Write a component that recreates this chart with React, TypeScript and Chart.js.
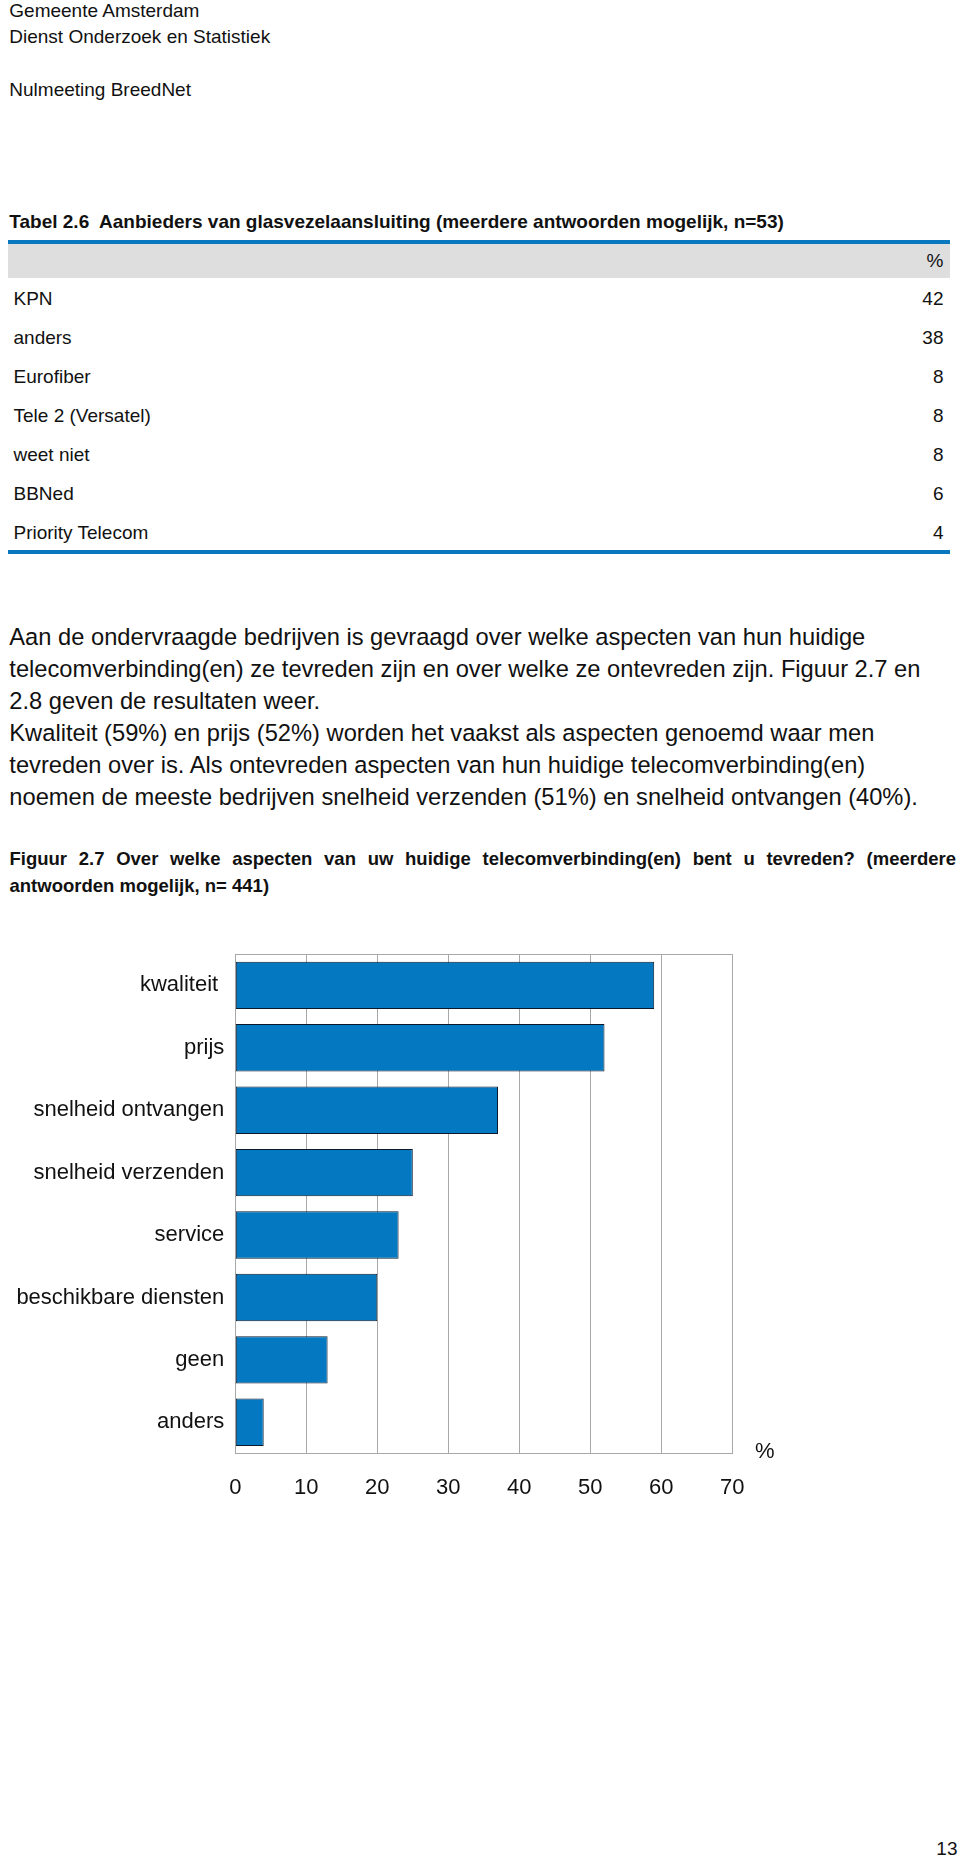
import React, { useEffect, useRef } from "react";
import { Chart, registerables } from "chart.js";

Chart.register(...registerables);

// ---------- data ----------
const headerLines = ["Gemeente Amsterdam", "Dienst Onderzoek en Statistiek"];
const reportTitle = "Nulmeeting BreedNet";
const tableTitle =
  "Tabel 2.6  Aanbieders van glasvezelaansluiting (meerdere antwoorden mogelijk, n=53)";
const tableUnit = "%";
const providers = [
  "KPN",
  "anders",
  "Eurofiber",
  "Tele 2 (Versatel)",
  "weet niet",
  "BBNed",
  "Priority Telecom",
];
const providerShares = [42, 38, 8, 8, 8, 6, 4];

const paragraphLines = [
  "Aan de ondervraagde bedrijven is gevraagd over welke aspecten van hun huidige",
  "telecomverbinding(en) ze tevreden zijn en over welke ze ontevreden zijn. Figuur 2.7 en",
  "2.8 geven de resultaten weer.",
  "Kwaliteit (59%) en prijs (52%) worden het vaakst als aspecten genoemd waar men",
  "tevreden over is. Als ontevreden aspecten van hun huidige telecomverbinding(en)",
  "noemen de meeste bedrijven snelheid verzenden (51%) en snelheid ontvangen (40%).",
];

const figureTitleLines = [
  "Figuur 2.7 Over welke aspecten van uw huidige telecomverbinding(en) bent u tevreden? (meerdere",
  "antwoorden mogelijk, n= 441)",
];

const aspects = [
  "kwaliteit ",
  "prijs",
  "snelheid ontvangen",
  "snelheid verzenden",
  "service",
  "beschikbare diensten",
  "geen",
  "anders",
];
const aspectShares = [59, 52, 37, 25, 23, 20, 13, 4];
const xTickValues = [0, 10, 20, 30, 40, 50, 60, 70];
const axisUnit = "%";
const pageNumber = "13";

// ---------- styling ----------
const FONT = '"Liberation Sans", Arial, Helvetica, sans-serif';
const BLUE = "#0a78bf";
const BAR = "#0478c0";
const GRID = "#a8a8a8";

type TProps = {
  text: string;
  cy: number;
  fs: number;
  left?: number;
  right?: number;
  bold?: boolean;
};

function T({ text, cy, fs, left, right, bold }: TProps) {
  const style: React.CSSProperties = {
    position: "absolute",
    top: cy - 0.5 * fs,
    fontSize: fs,
    lineHeight: `${fs}px`,
    fontFamily: FONT,
    fontWeight: bold ? "bold" : "normal",
    whiteSpace: "pre",
    color: "#111",
  };
  if (left !== undefined) style.left = left;
  if (right !== undefined) {
    style.right = 960 - right;
    style.textAlign = "right";
  }
  return <div style={style}>{text}</div>;
}

function BarChart() {
  const ref = useRef<HTMLCanvasElement | null>(null);
  useEffect(() => {
    if (!ref.current) return;
    const topBorder = {
      id: "topBorder",
      afterDatasetsDraw(chart: any) {
        const { ctx, chartArea } = chart;
        ctx.save();
        ctx.strokeStyle = GRID;
        ctx.lineWidth = 1;
        const y = Math.round(chartArea.top) + 0.5;
        ctx.beginPath();
        ctx.moveTo(chartArea.left, y);
        ctx.lineTo(chartArea.right, y);
        ctx.stroke();
        ctx.restore();
      },
    };
    const chart = new Chart(ref.current, {
      type: "bar",
      data: {
        labels: aspects,
        datasets: [
          {
            data: aspectShares,
            backgroundColor: BAR,
            borderColor: "#0b1a2a",
            borderWidth: 1,
            borderSkipped: false,
            categoryPercentage: 0.76,
            barPercentage: 1,
          },
        ],
      },
      options: {
        indexAxis: "y",
        animation: false,
        responsive: false,
        maintainAspectRatio: false,
        devicePixelRatio: 1,
        layout: { padding: { top: 24, right: 67.7, left: 0, bottom: 0 } },
        plugins: {
          legend: { display: false },
          tooltip: { enabled: false },
          title: { display: false },
        },
        scales: {
          x: {
            min: 0,
            max: 70,
            afterBuildTicks: (s: any) => {
              s.ticks = xTickValues.map((v) => ({ value: v }));
            },
            afterFit: (s: any) => {
              s.height = 66.5;
            },
            grid: { color: GRID, lineWidth: 1, drawTicks: false },
            border: { display: true, color: GRID, width: 1 },
            ticks: {
              color: "#111",
              padding: 21.6,
              font: { family: FONT, size: 22 },
              maxRotation: 0,
            },
          },
          y: {
            afterFit: (s: any) => {
              s.width = 235.3;
            },
            grid: { display: false, drawTicks: false },
            border: { display: true, color: GRID, width: 1 },
            ticks: {
              color: "#111",
              padding: 11,
              font: { family: FONT, size: 22 },
            },
          },
        },
      },
      plugins: [topBorder],
    });
    return () => chart.destroy();
  }, []);
  return (
    <canvas
      ref={ref}
      width={800}
      height={590}
      style={{ position: "absolute", left: 0, top: 930, width: 800, height: 590 }}
    />
  );
}

export default function App() {
  const rowCy = providers.map((_, i) => 298.5 + i * 39);
  return (
    <div
      style={{
        position: "absolute",
        left: 0,
        top: 0,
        width: 960,
        height: 1863,
        background: "#fff",
        overflow: "hidden",
      }}
    >
      <T text={headerLines[0]} cy={10.3} fs={19} left={9.3} />
      <T text={headerLines[1]} cy={36} fs={19} left={9.3} />
      <T text={reportTitle} cy={89} fs={19} left={9.3} />

      <T text={tableTitle} cy={221.7} fs={19} left={9.3} bold />
      <div style={{ position: "absolute", left: 8, top: 240, width: 942, height: 3.5, background: BLUE }} />
      <div style={{ position: "absolute", left: 8, top: 243.5, width: 942, height: 34.8, background: "#dedede" }} />
      <T text={tableUnit} cy={260} fs={19} right={943.5} />
      {providers.map((p, i) => (
        <React.Fragment key={p}>
          <T text={p} cy={rowCy[i]} fs={19} left={13.5} />
          <T text={String(providerShares[i])} cy={rowCy[i]} fs={19} right={943.5} />
        </React.Fragment>
      ))}
      <div style={{ position: "absolute", left: 8, top: 550, width: 942, height: 3.5, background: BLUE }} />

      {paragraphLines.map((l, i) => (
        <T key={i} text={l} cy={637.7 + i * 32.1} fs={23.7} left={9.3} />
      ))}

      <div
        style={{
          position: "absolute",
          left: 9.5,
          top: 859 - 0.5 * 18.5,
          width: 946.5,
          fontSize: 18.5,
          lineHeight: "18.5px",
          fontFamily: FONT,
          fontWeight: "bold",
          textAlign: "justify",
          textAlignLast: "justify",
          color: "#111",
          whiteSpace: "normal",
        }}
      >
        {figureTitleLines[0]}
      </div>
      <T text={figureTitleLines[1]} cy={886} fs={18.5} left={9.5} bold />

      <BarChart />
      <T text={axisUnit} cy={1451} fs={22} left={764 - 9} />

      <T text={pageNumber} cy={1848} fs={19} right={957.5} />
    </div>
  );
}
